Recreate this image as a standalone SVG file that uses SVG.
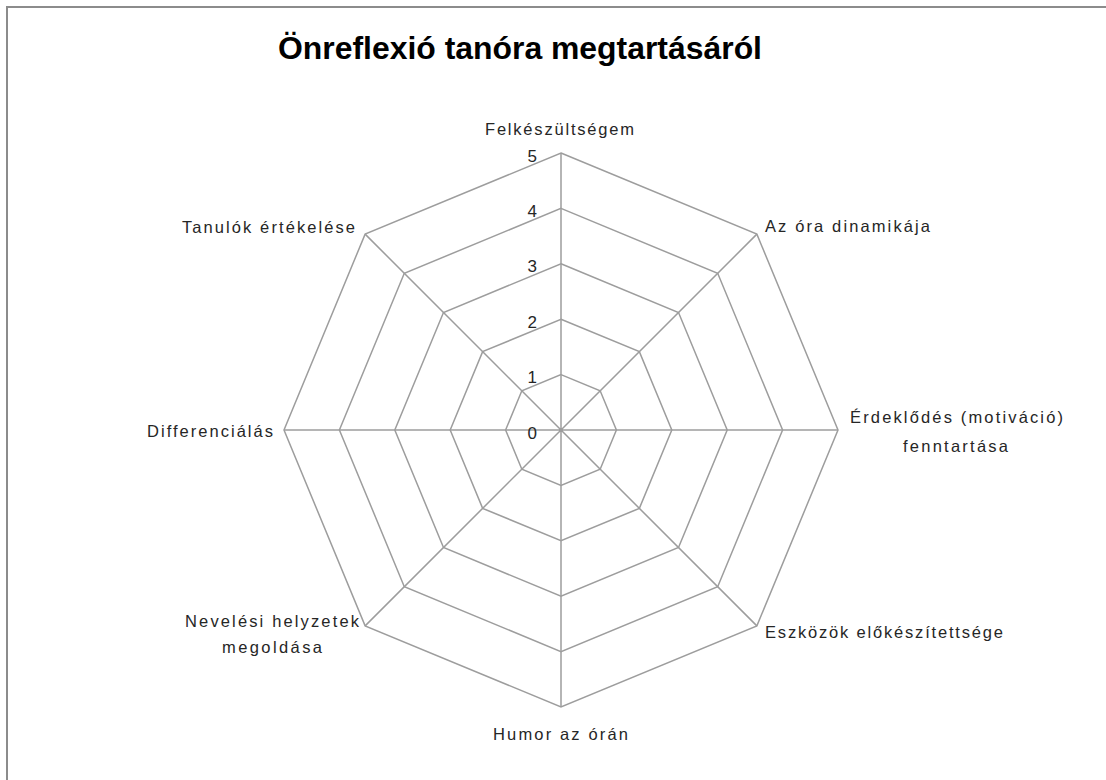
<svg xmlns="http://www.w3.org/2000/svg" width="1106" height="780" viewBox="0 0 1106 780">
<style>
.grid{fill:none;stroke:#9d9d9d;stroke-width:1.5}
.lbl{font-family:"Liberation Sans",Arial,sans-serif;font-size:16.5px;fill:#262626}
.num{font-family:"Liberation Sans",Arial,sans-serif;font-size:17px;fill:#262626;text-anchor:end}
.title{font-family:"Liberation Sans",Arial,sans-serif;font-size:31px;font-weight:bold;fill:#000;text-anchor:middle}
</style>
<rect x="0" y="0" width="1106" height="780" fill="#fff"/>
<rect x="7" y="7" width="1110" height="800" fill="#fff" stroke="#8c8c8c" stroke-width="2"/>
<text class="title" x="520" y="59" textLength="484" lengthAdjust="spacingAndGlyphs">Önreflexió tanóra megtartásáról</text>
<g id="grid">
<polygon class="grid" points="561,374.6 600.17,390.83 616.4,430 600.17,469.17 561,485.4 521.83,469.17 505.6,430 521.83,390.83"/>
<polygon class="grid" points="561,319.2 639.35,351.65 671.8,430 639.35,508.35 561,540.8 482.65,508.35 450.2,430 482.65,351.65"/>
<polygon class="grid" points="561,263.8 678.52,312.48 727.2,430 678.52,547.52 561,596.2 443.48,547.52 394.8,430 443.48,312.48"/>
<polygon class="grid" points="561,208.4 717.69,273.31 782.6,430 717.69,586.69 561,651.6 404.31,586.69 339.4,430 404.31,273.31"/>
<polygon class="grid" points="561,153 756.87,234.13 838,430 756.87,625.87 561,707 365.13,625.87 284,430 365.13,234.13"/>
</g>
<g id="connectors">
<path class="grid" d="M561,430V153M561,430L756.87,234.13M561,430H838M561,430L756.87,625.87M561,430V707M561,430L365.13,625.87M561,430H284M561,430L365.13,234.13"/>
</g>
<g id="scale">
<text class="num" x="537" y="439">0</text>
<text class="num" x="537" y="383">1</text>
<text class="num" x="537" y="328">2</text>
<text class="num" x="537" y="272">3</text>
<text class="num" x="537" y="217">4</text>
<text class="num" x="537" y="162">5</text>
</g>
<g id="axis-felkeszultsegem"><text class="lbl" x="485" y="135" textLength="149">Felkészültségem</text></g>
<g id="axis-dinamika"><text class="lbl" x="765" y="232" textLength="165">Az óra dinamikája</text></g>
<g id="axis-erdeklodes">
<text class="lbl" x="850" y="423" textLength="213">Érdeklődés (motiváció)</text>
<text class="lbl" x="903" y="452" textLength="105">fenntartása</text>
</g>
<g id="axis-eszkozok"><text class="lbl" x="765" y="638" textLength="238">Eszközök előkészítettsége</text></g>
<g id="axis-humor"><text class="lbl" x="493" y="740" textLength="135">Humor az órán</text></g>
<g id="axis-neveles">
<text class="lbl" x="185" y="627" textLength="174">Nevelési helyzetek</text>
<text class="lbl" x="222" y="653" textLength="100">megoldása</text>
</g>
<g id="axis-differencialas"><text class="lbl" x="147" y="437" textLength="126">Differenciálás</text></g>
<g id="axis-tanulok"><text class="lbl" x="182" y="233" textLength="173">Tanulók értékelése</text></g>
</svg>
